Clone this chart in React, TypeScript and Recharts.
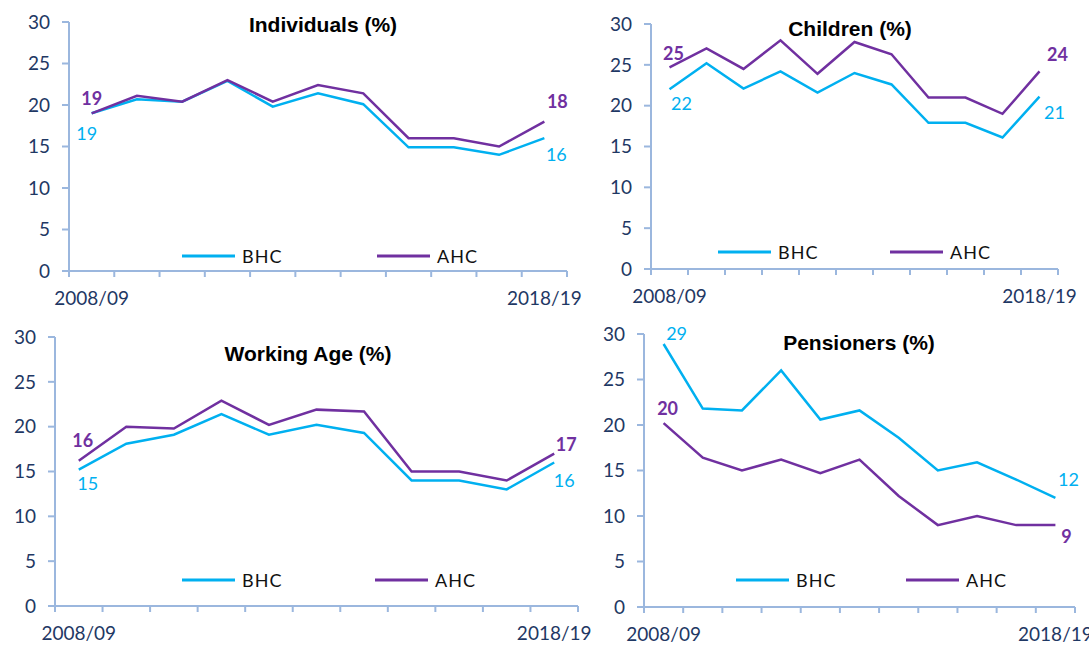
import React from 'react';
import { LineChart, Line, XAxis, YAxis, LabelList } from 'recharts';

// ---------- data ----------
const years = ['2008/09', '2009/10', '2010/11', '2011/12', '2012/13', '2013/14', '2014/15', '2015/16', '2016/17', '2017/18', '2018/19'];
const yTicks = [0, 5, 10, 15, 20, 25, 30];

const individualsBHC = [19, 20.7, 20.4, 22.9, 19.8, 21.4, 20.1, 14.9, 14.9, 14.0, 16.0];
const individualsAHC = [19, 21.1, 20.4, 23.0, 20.4, 22.4, 21.4, 16.0, 16.0, 15.0, 18.0];
const childrenBHC = [22.0, 25.2, 22.1, 24.2, 21.6, 24.0, 22.6, 17.9, 17.9, 16.1, 21.1];
const childrenAHC = [24.7, 27.0, 24.5, 28.0, 23.9, 27.8, 26.3, 21.0, 21.0, 19.0, 24.2];
const workingBHC = [15.2, 18.1, 19.1, 21.4, 19.1, 20.2, 19.3, 14.0, 14.0, 13.0, 16.0];
const workingAHC = [16.2, 20.0, 19.8, 22.9, 20.2, 21.9, 21.7, 15.0, 15.0, 14.0, 17.0];
const pensionersBHC = [28.9, 21.8, 21.6, 26.0, 20.6, 21.6, 18.6, 15.0, 15.9, 14.0, 12.0];
const pensionersAHC = [20.2, 16.4, 15.0, 16.2, 14.7, 16.2, 12.2, 9.0, 10.0, 9.0, 9.0];

const seriesNames = ['BHC', 'AHC'];

// ---------- styles ----------
const W = 1089;
const H = 645;
const BHC_COLOR = '#00B0F0';
const AHC_COLOR = '#7030A0';
const AXIS_COLOR = '#9BB7DE';
const TICK_COLOR = '#1F3864';
const FONT = 'Lato, "Open Sans", sans-serif';
const TITLE_FONT = '"Liberation Sans", Arial, sans-serif';
const Y_AXIS_W = 50;
const X_AXIS_H = 30;

type Off = { dx: number; dy: number };
type PanelCfg = {
  title: string;
  bhc: number[];
  ahc: number[];
  plot: { x0: number; x1: number; top: number; bottom: number };
  titlePos: { x: number; y: number };
  legend: { x: number; y: number; gap: number };
  bhcLabels: [Off, Off];
  ahcLabels: [Off, Off];
};

const panels: PanelCfg[] = [
  {
    title: 'Individuals (%)',
    bhc: individualsBHC,
    ahc: individualsAHC,
    plot: { x0: 69, x1: 567, top: 22, bottom: 271 },
    titlePos: { x: 323, y: 25 },
    legend: { x: 182, y: 256, gap: 195 },
    bhcLabels: [{ dx: -5, dy: 22 }, { dx: 12, dy: 18 }],
    ahcLabels: [{ dx: 0, dy: -13 }, { dx: 13, dy: -18 }],
  },
  {
    title: 'Children (%)',
    bhc: childrenBHC,
    ahc: childrenAHC,
    plot: { x0: 651, x1: 1058, top: 24, bottom: 269 },
    titlePos: { x: 850, y: 29 },
    legend: { x: 718, y: 252, gap: 172 },
    bhcLabels: [{ dx: 12, dy: 16 }, { dx: 15, dy: 18 }],
    ahcLabels: [{ dx: 4, dy: -12 }, { dx: 18, dy: -15 }],
  },
  {
    title: 'Working Age (%)',
    bhc: workingBHC,
    ahc: workingAHC,
    plot: { x0: 55, x1: 578, top: 337, bottom: 606 },
    titlePos: { x: 308, y: 354 },
    legend: { x: 182, y: 580, gap: 193 },
    bhcLabels: [{ dx: 9, dy: 16 }, { dx: 10, dy: 20 }],
    ahcLabels: [{ dx: 4, dy: -18 }, { dx: 12, dy: -7 }],
  },
  {
    title: 'Pensioners (%)',
    bhc: pensionersBHC,
    ahc: pensionersAHC,
    plot: { x0: 644, x1: 1075, top: 334, bottom: 607 },
    titlePos: { x: 859, y: 343 },
    legend: { x: 736, y: 580, gap: 170 },
    bhcLabels: [{ dx: 13, dy: -9 }, { dx: 13, dy: -16 }],
    ahcLabels: [{ dx: 4, dy: -13 }, { dx: 11, dy: 13 }],
  },
];

// x ticks: band boundaries (integers) + first/last band centres (labels)
const xTicks: number[] = [];
for (let i = 0; i <= years.length; i++) {
  xTicks.push(i);
  if (i === 0 || i === years.length - 1) xTicks.push(i + 0.5);
}

const XTick = (props: any) => {
  const { x, y, payload } = props;
  const v = payload.value as number;
  if (Number.isInteger(v)) {
    return <line x1={x} x2={x} y1={y} y2={y + 6} stroke={AXIS_COLOR} strokeWidth={2} />;
  }
  return (
    <text x={x} y={y + 29} textAnchor="middle" dominantBaseline="middle" fill={TICK_COLOR} fontSize={19} fontFamily={FONT}>
      {years[Math.floor(v)]}
    </text>
  );
};

const makeLabel = (offs: [Off, Off], color: string, bold: boolean, last: number) => (props: any) => {
  const { x, y, value, index } = props;
  if (index !== 0 && index !== last) return null;
  const o = index === 0 ? offs[0] : offs[1];
  return (
    <text
      x={x + o.dx}
      y={y + o.dy}
      textAnchor="middle"
      dominantBaseline="middle"
      fill={color}
      fontSize={18}
      fontWeight={bold ? 700 : 400}
      fontFamily={FONT}
    >
      {Math.round(Number(value))}
    </text>
  );
};

const LegendItem = ({ color, name, left }: { color: string; name: string; left: number }) => (
  <div style={{ position: 'absolute', left, top: 0, height: 24, display: 'flex', alignItems: 'center', whiteSpace: 'nowrap' }}>
    <svg width={53} height={6} style={{ display: 'block' }}>
      <line x1={0} x2={53} y1={3} y2={3} stroke={color} strokeWidth={3} />
    </svg>
    <span style={{ marginLeft: 7, fontSize: 18, fontFamily: FONT, color: '#111', letterSpacing: 1 }}>{name}</span>
  </div>
);

const Panel = ({ cfg }: { cfg: PanelCfg }) => {
  const data = years.map((year, i) => ({ pos: i + 0.5, year, bhc: cfg.bhc[i], ahc: cfg.ahc[i] }));
  const last = years.length - 1;
  const margin = {
    left: cfg.plot.x0 - Y_AXIS_W,
    right: W - cfg.plot.x1,
    top: cfg.plot.top,
    bottom: H - cfg.plot.bottom - X_AXIS_H,
  };
  return (
    <>
      <div style={{ position: 'absolute', left: 0, top: 0 }}>
        <LineChart width={W} height={H} data={data} margin={margin}>
          <XAxis
            dataKey="pos"
            type="number"
            domain={[0, years.length]}
            ticks={xTicks}
            interval={0}
            tickSize={0}
            tickMargin={0}
            tickLine={false}
            axisLine={{ stroke: AXIS_COLOR, strokeWidth: 2 }}
            tick={<XTick />}
            height={X_AXIS_H}
            allowDecimals
          />
          <YAxis
            type="number"
            domain={[0, 30]}
            ticks={yTicks}
            interval={0}
            width={Y_AXIS_W}
            tickSize={7}
            tickMargin={12}
            axisLine={{ stroke: AXIS_COLOR, strokeWidth: 2 }}
            tickLine={{ stroke: AXIS_COLOR, strokeWidth: 2 }}
            tick={{ fill: TICK_COLOR, fontSize: 19, fontFamily: FONT }}
          />
          <Line type="linear" dataKey="bhc" name={seriesNames[0]} stroke={BHC_COLOR} strokeWidth={2.5} dot={false} isAnimationActive={false}>
            <LabelList dataKey="bhc" content={makeLabel(cfg.bhcLabels, BHC_COLOR, false, last)} />
          </Line>
          <Line type="linear" dataKey="ahc" name={seriesNames[1]} stroke={AHC_COLOR} strokeWidth={2.5} dot={false} isAnimationActive={false}>
            <LabelList dataKey="ahc" content={makeLabel(cfg.ahcLabels, AHC_COLOR, true, last)} />
          </Line>
        </LineChart>
      </div>
      <div
        style={{
          position: 'absolute',
          left: cfg.titlePos.x,
          top: cfg.titlePos.y,
          transform: 'translate(-50%, -50%)',
          whiteSpace: 'nowrap',
          fontFamily: TITLE_FONT,
          fontWeight: 700,
          fontSize: 21,
          lineHeight: '24px',
          color: '#000',
        }}
      >
        {cfg.title}
      </div>
      <div style={{ position: 'absolute', left: cfg.legend.x, top: cfg.legend.y - 12, height: 24 }}>
        <LegendItem color={BHC_COLOR} name={seriesNames[0]} left={0} />
        <LegendItem color={AHC_COLOR} name={seriesNames[1]} left={cfg.legend.gap} />
      </div>
    </>
  );
};

export default function App() {
  return (
    <div style={{ position: 'absolute', left: 0, top: 0, width: W, height: H, background: '#fff', overflow: 'hidden' }}>
      {panels.map((p) => (
        <Panel key={p.title} cfg={p} />
      ))}
    </div>
  );
}
